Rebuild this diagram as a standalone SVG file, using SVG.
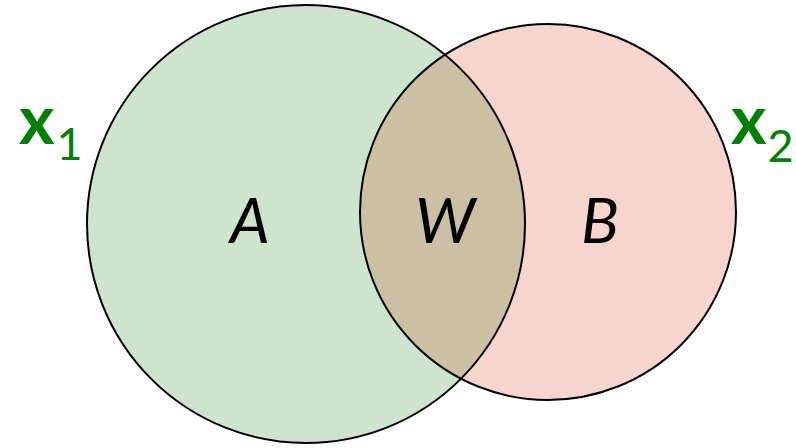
<svg xmlns="http://www.w3.org/2000/svg" width="796" height="448" viewBox="0 0 796 448">
  <style>
    .set { stroke: #000; stroke-width: 2; fill: none; }
    .region { font-family: Lato, "Open Sans", "Liberation Sans", sans-serif; font-style: italic; font-size: 63px; fill: #000; text-anchor: middle; }
    .var { font-family: Lato, "Open Sans", "Liberation Sans", sans-serif; fill: #008000; }
    .var .base { font-weight: bold; font-size: 68px; }
    .var .sub { font-size: 45px; }
  </style>
  <defs>
    <clipPath id="clipA">
      <circle cx="306" cy="224" r="219"/>
    </clipPath>
  </defs>

  <rect width="796" height="448" fill="#fff"/>

  <!-- set A -->
  <g id="setA">
    <circle cx="306" cy="224" r="219" fill="#cde5cc"/>
  </g>
  <!-- set B -->
  <g id="setB">
    <circle cx="548" cy="212" r="188" fill="#f5d5cc"/>
  </g>
  <!-- intersection W -->
  <g id="intersection">
    <circle cx="548" cy="212" r="188" fill="#ccc0a4" clip-path="url(#clipA)"/>
  </g>

  <!-- outlines -->
  <g id="outlines">
    <circle class="set" cx="306" cy="224" r="219"/>
    <circle class="set" cx="548" cy="212" r="188"/>
  </g>

  <g id="labels">
    <text class="region" x="250" y="243">A</text>
    <text class="region" x="445" y="243">W</text>
    <text class="region" x="600" y="243">B</text>
  </g>

  <g id="x1">
    <text class="var" x="19" y="144"><tspan class="base">x</tspan><tspan class="sub" dx="2" dy="16">1</tspan></text>
  </g>
  <g id="x2">
    <text class="var" x="731" y="144"><tspan class="base">x</tspan><tspan class="sub" dx="1" dy="18">2</tspan></text>
  </g>
</svg>
